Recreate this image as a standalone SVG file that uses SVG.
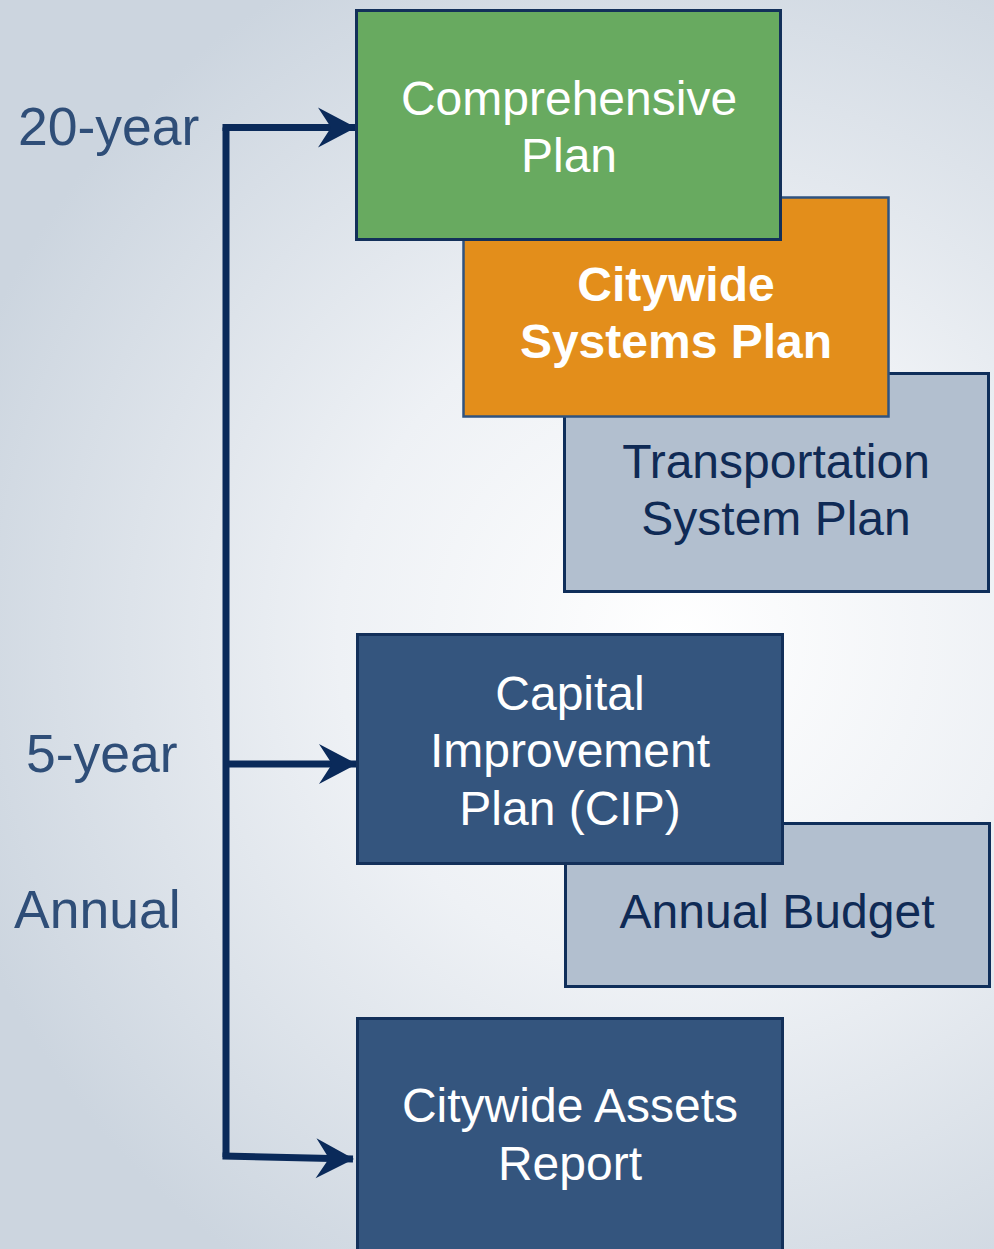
<svg xmlns="http://www.w3.org/2000/svg" width="994" height="1249" viewBox="0 0 994 1249">
<defs>
<radialGradient id="bg" cx="680" cy="640" r="760" gradientUnits="userSpaceOnUse">
<stop offset="0" stop-color="#ffffff"/>
<stop offset="0.45" stop-color="#eef1f5"/>
<stop offset="1" stop-color="#ccd5df"/>
</radialGradient>
<marker id="ah" markerUnits="userSpaceOnUse" markerWidth="40" markerHeight="44" viewBox="-38 -22 40 44" refX="0" refY="0" orient="auto">
<path d="M1,0 L-37,-20 L-24,0 L-37,20 Z" fill="#0a2a5a"/>
</marker>
<style>
.lbl{font-family:"Liberation Sans",Arial,sans-serif;font-size:53.5px;fill:#2f4e78}
.t{font-family:"Liberation Sans",Arial,sans-serif;font-size:48px;text-anchor:middle}
.w{fill:#ffffff}
.d{fill:#0f2a55}
.b{font-weight:bold}
.box{stroke-width:3}
.conn{fill:none;stroke:#0a2a5a;stroke-width:7}
</style>
</defs>
<rect x="0" y="0" width="994" height="1249" fill="url(#bg)"/>
<g id="labels">
<text class="lbl" x="18" y="145">20-year</text>
<text class="lbl" x="26" y="772">5-year</text>
<text class="lbl" x="14" y="928">Annual</text>
</g>
<g id="connectors">
<path class="conn" d="M226,1157 L226,127.5"/>
<path class="conn" d="M222.5,127.5 L355,127.5" marker-end="url(#ah)"/>
<path class="conn" d="M226,764 L356,764" marker-end="url(#ah)"/>
<path class="conn" d="M222.5,1156 L353,1159" marker-end="url(#ah)"/>
</g>
<g id="transportation">
<rect class="box" x="564.5" y="373.5" width="424" height="218" fill="#b2bfcf" stroke="#0f2e5a"/>
<text class="t d" x="776" y="478">Transportation</text>
<text class="t d" x="776" y="535">System Plan</text>
</g>
<g id="citywide-systems">
<rect x="463.5" y="197.5" width="425" height="219" fill="#e38e1b" stroke="#2f5380" stroke-width="2.5"/>
<text class="t w b" x="676" y="301">Citywide</text>
<text class="t w b" x="676" y="358">Systems Plan</text>
</g>
<g id="comprehensive">
<rect class="box" x="356.5" y="10.5" width="424" height="229" fill="#68aa60" stroke="#13305a"/>
<text class="t w" x="569" y="115">Comprehensive</text>
<text class="t w" x="569" y="172">Plan</text>
</g>
<g id="annual-budget">
<rect class="box" x="565.5" y="823.5" width="424" height="163" fill="#b2bfcf" stroke="#0f2e5a"/>
<text class="t d" x="777" y="928">Annual Budget</text>
</g>
<g id="cip">
<rect class="box" x="357.5" y="634.5" width="425" height="229" fill="#34557e" stroke="#13305a"/>
<text class="t w" x="570" y="710">Capital</text>
<text class="t w" x="570" y="767">Improvement</text>
<text class="t w" x="570" y="825">Plan (CIP)</text>
</g>
<g id="assets-report">
<rect class="box" x="357.5" y="1018.5" width="425" height="240" fill="#34557e" stroke="#13305a"/>
<text class="t w" x="570" y="1122">Citywide Assets</text>
<text class="t w" x="570" y="1180">Report</text>
</g>
</svg>
